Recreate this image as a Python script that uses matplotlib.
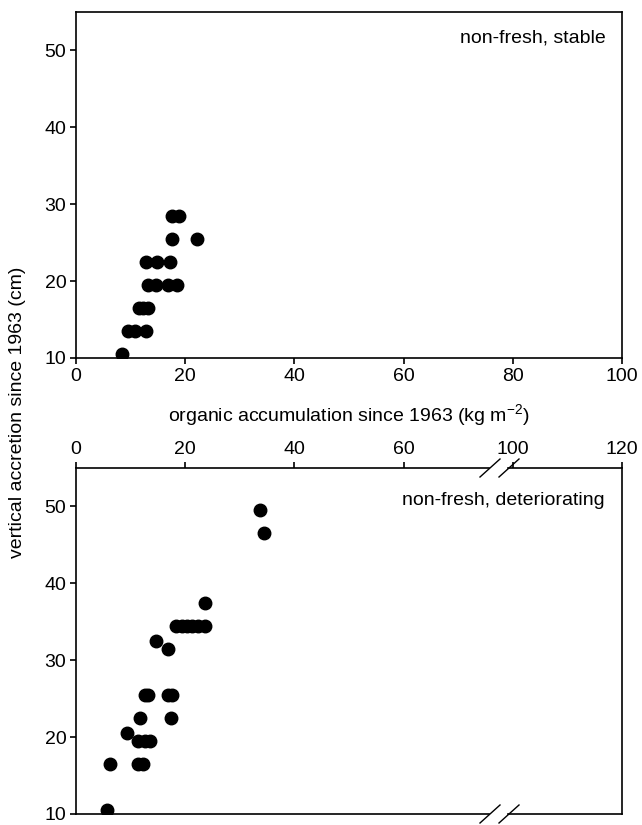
import matplotlib
matplotlib.use('Agg')
import matplotlib.pyplot as plt
from matplotlib.lines import Line2D
import numpy as np

plt.rcParams['font.family'] = ['Liberation Sans', 'DejaVu Sans']
plt.rcParams['font.size'] = 14
plt.rcParams['mathtext.fontset'] = 'custom'
plt.rcParams['mathtext.rm'] = 'Liberation Sans'
plt.rcParams['mathtext.default'] = 'regular'

# top panel: non-fresh, stable
stable_x = [8.5, 9.6, 10.8, 12.8, 11.5, 12.3, 13.1, 13.2, 14.6, 16.9, 18.5,
            12.8, 14.8, 17.3, 17.6, 22.2, 17.6, 18.9]
stable_y = [10.5, 13.5, 13.5, 13.5, 16.5, 16.5, 16.5, 19.5, 19.5, 19.5, 19.5,
            22.5, 22.5, 22.5, 25.5, 25.5, 28.5, 28.5]

# bottom panel: non-fresh, deteriorating
det_x = [5.6, 6.2, 11.3, 12.2, 9.3, 11.3, 12.6, 13.5, 11.7, 17.4,
         12.7, 13.1, 16.8, 17.5, 16.8, 14.6,
         18.4, 19.4, 20.3, 21.2, 22.4, 23.6, 23.6, 33.7, 34.4]
det_y = [10.5, 16.5, 16.5, 16.5, 20.5, 19.5, 19.5, 19.5, 22.5, 22.5,
         25.5, 25.5, 25.5, 25.5, 31.5, 32.5,
         34.5, 34.5, 34.5, 34.5, 34.5, 34.5, 37.5, 49.5, 46.5]

y_ticks = [10, 20, 30, 40, 50]
x_ticks_top = [0, 20, 40, 60, 80, 100]
x_ticks_left = [0, 20, 40, 60]
x_ticks_right = [100, 120]

W, H = 642, 825
fig = plt.figure(figsize=(W / 100, H / 100), dpi=100)

def box(px_left, px_top, px_w, px_h):
    return [px_left / W, 1 - (px_top + px_h) / H, px_w / W, px_h / H]

def style(ax):
    for s in ax.spines.values():
        s.set_linewidth(1.2)
    ax.tick_params(direction='out', length=4, width=1.2, pad=3, labelsize=14)

# top panel
ax1 = fig.add_axes(box(76, 12, 546, 346))
style(ax1)
ax1.plot(stable_x, stable_y, 'o', color='black', markersize=9)
ax1.set_xlim(0, 100)
ax1.set_ylim(10, 55)
ax1.set_xticks(x_ticks_top)
ax1.set_yticks(y_ticks)
ax1.text(0.97, 0.925, 'non-fresh, stable', transform=ax1.transAxes,
         ha='right', va='center', fontsize=14)

# bottom panel, broken x axis
ax2 = fig.add_axes(box(76, 468, 413, 346))
ax3 = fig.add_axes(box(508, 468, 114, 346))
for a in (ax2, ax3):
    style(a)
    a.plot(det_x, det_y, 'o', color='black', markersize=9)
    a.set_ylim(10, 55)
    a.xaxis.tick_top()
    a.tick_params(axis='x', bottom=False, top=True, labelbottom=False, labeltop=True)
ax2.set_xlim(0, 413 / 5.46)
ax3.set_xlim(120 - 114 / 5.46, 120)
ax2.set_xticks(x_ticks_left)
ax3.set_xticks(x_ticks_right)
ax2.set_yticks(y_ticks)
ax3.set_yticks([])
ax2.spines['right'].set_visible(False)
ax3.spines['left'].set_visible(False)
ax3.text(0.85, 0.907, 'non-fresh, deteriorating', transform=ax3.transAxes,
         ha='right', va='center', fontsize=14, clip_on=False)

# break marks
for cx in (490, 509):
    for cy in (468, 814):
        fig.add_artist(Line2D([(cx - 10) / W, (cx + 10) / W],
                              [1 - (cy + 9) / H, 1 - (cy - 9) / H],
                              color='black', lw=1.0))

fig.text(18 / W, 0.5, 'vertical accretion since 1963 (cm)', rotation=90,
         ha='center', va='center', fontsize=14)
fig.text(349 / W, 1 - 415 / H, 'organic accumulation since 1963 (kg m$^{-2}$)',
         ha='center', va='center', fontsize=14)

fig.savefig('out.png', dpi=100)
